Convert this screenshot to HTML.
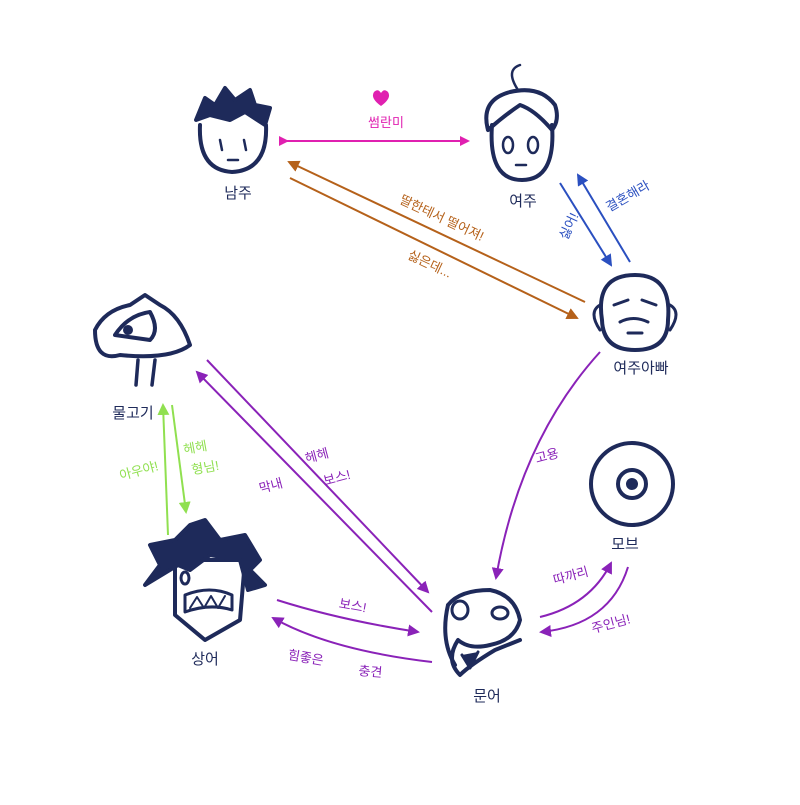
<!DOCTYPE html>
<html><head><meta charset="utf-8"><style>
html,body{margin:0;padding:0;background:#fff;}
svg text{font-family:"Liberation Sans","Noto Sans CJK KR","NanumGothic",sans-serif;}
</style></head><body>
<svg width="800" height="800" viewBox="0 0 800 800" xmlns="http://www.w3.org/2000/svg">
<defs>
<marker id="mp" markerWidth="10" markerHeight="10" refX="8" refY="5" orient="auto" markerUnits="userSpaceOnUse"><path d="M0,0 L10,5 L0,10 Z" fill="#e020b0"/></marker>
<marker id="mb" markerWidth="12" markerHeight="12" refX="10" refY="6" orient="auto" markerUnits="userSpaceOnUse"><path d="M0,0 L12,6 L0,12 Z" fill="#b5611a"/></marker>
<marker id="mbl" markerWidth="12" markerHeight="12" refX="10" refY="6" orient="auto" markerUnits="userSpaceOnUse"><path d="M0,0 L12,6 L0,12 Z" fill="#2a4fc0"/></marker>
<marker id="mpu" markerWidth="12" markerHeight="12" refX="10" refY="6" orient="auto" markerUnits="userSpaceOnUse"><path d="M0,0 L12,6 L0,12 Z" fill="#8a22b8"/></marker>
<marker id="mg" markerWidth="12" markerHeight="12" refX="10" refY="6" orient="auto" markerUnits="userSpaceOnUse"><path d="M0,0 L12,6 L0,12 Z" fill="#90e050"/></marker>
</defs>
<g fill="none" stroke="#1e2a5a" stroke-width="4" stroke-linecap="round" stroke-linejoin="round">
<path d="M200,125 Q198,170 232,172 Q268,170 266,125"/>
<path d="M196,120 L205,98 L215,105 L225,88 L235,100 L250,90 L255,105 L270,108 L265,125 L245,112 L230,120 L210,115 Z" fill="#1e2a5a"/>
<path d="M220,140 L222,150 M244,140 L246,150 M228,160 L238,160" stroke-width="2.5"/>
<path d="M492,125 Q488,180 522,180 Q556,180 552,125"/>
<path d="M488,130 Q480,100 510,92 Q540,85 555,105 Q560,120 552,130 Q535,110 520,105 Q505,115 488,130"/>
<path d="M518,90 Q505,70 520,65" stroke-width="2.5"/>
<ellipse cx="508" cy="145" rx="5" ry="8" stroke-width="2.5"/><ellipse cx="533" cy="145" rx="5" ry="8" stroke-width="2.5"/>
<path d="M516,165 L526,165" stroke-width="2.5"/>
<path d="M602,320 Q595,275 635,275 Q672,275 668,320 Q668,350 635,350 Q603,350 602,320 Z"/>
<path d="M600,305 Q588,312 600,330 M670,305 Q682,312 670,330" stroke-width="3"/>
<path d="M614,305 L628,300 M642,300 L656,305 M620,322 Q633,315 648,322 M628,333 L642,333" stroke-width="3"/>
<path d="M95,330 Q105,310 130,305 L145,295 L160,305 Q180,315 190,345 Q170,360 120,355 Q95,362 95,330 Z"/>
<path d="M115,335 Q128,315 150,312 Q160,330 150,340 Z"/>
<circle cx="128" cy="330" r="3" fill="#1e2a5a"/>
<path d="M138,360 L136,385 M155,360 L152,385" stroke-width="3.5"/>
<path d="M175,560 L175,615 L205,640 L240,620 L245,560 Z"/>
<path d="M145,585 L160,565 L150,545 L175,540 L190,525 L205,520 L220,540 L245,535 L260,560 L250,570 L265,585 L248,590 L240,560 L210,555 L190,570 L178,565 Z" fill="#1e2a5a"/>
<path d="M185,595 Q210,585 232,595 L232,610 Q210,603 185,612 Z" stroke-width="3"/>
<path d="M190,608 L197,597 L204,608 L211,596 L218,608 L225,596" stroke-width="2"/>
<ellipse cx="185" cy="578" rx="4" ry="6" stroke-width="3"/>
<path d="M448,605 Q460,590 490,590 Q515,595 520,620 Q515,640 490,645 Q470,650 458,640 Q445,660 460,675 Q470,665 495,650 L520,640 M448,605 Q440,640 455,665"/>
<ellipse cx="460" cy="610" rx="8" ry="9" stroke-width="3"/>
<ellipse cx="500" cy="613" rx="8" ry="6" stroke-width="3"/>
<path d="M462,655 L470,668 L478,652" fill="#1e2a5a" stroke-width="3"/>
<circle cx="632" cy="484" r="41"/>
<circle cx="632" cy="484" r="14"/>
<circle cx="632" cy="484" r="4" fill="#1e2a5a"/>
</g>
<path d="M381,106 Q370,98 374,92 Q378,88 381,93 Q384,88 388,92 Q392,98 381,106 Z" fill="#e020b0"/>
<g fill="none" stroke-width="2">
<line x1="287" y1="141" x2="468" y2="141" stroke="#e020b0" marker-end="url(#mp)" marker-start="url(#mp)"/>
<line x1="585" y1="302" x2="289" y2="162" stroke="#b5611a" marker-end="url(#mb)"/>
<line x1="290" y1="178" x2="577" y2="318" stroke="#b5611a" marker-end="url(#mb)"/>
<line x1="560" y1="183" x2="611" y2="265" stroke="#2a4fc0" marker-end="url(#mbl)"/>
<line x1="630" y1="262" x2="578" y2="175" stroke="#2a4fc0" marker-end="url(#mbl)"/>
<path d="M600,352 Q520,440 496,578" stroke="#8a22b8" marker-end="url(#mpu)"/>
<line x1="207" y1="360" x2="428" y2="592" stroke="#8a22b8" marker-end="url(#mpu)"/>
<line x1="432" y1="612" x2="197" y2="372" stroke="#8a22b8" marker-end="url(#mpu)"/>
<line x1="168" y1="535" x2="163" y2="405" stroke="#90e050" marker-end="url(#mg)"/>
<line x1="172" y1="405" x2="186" y2="512" stroke="#90e050" marker-end="url(#mg)"/>
<path d="M277,600 Q340,620 418,632" stroke="#8a22b8" marker-end="url(#mpu)"/>
<path d="M432,662 Q330,650 273,618" stroke="#8a22b8" marker-end="url(#mpu)"/>
<path d="M540,617 Q590,605 611,563" stroke="#8a22b8" marker-end="url(#mpu)"/>
<path d="M628,567 Q610,625 541,632" stroke="#8a22b8" marker-end="url(#mpu)"/>
</g>
<g font-size="15" fill="#1e2a5a" text-anchor="middle">
<text x="238" y="198">남주</text>
<text x="523" y="206">여주</text>
<text x="641" y="373">여주아빠</text>
<text x="133" y="418">물고기</text>
<text x="205" y="664">상어</text>
<text x="487" y="701">문어</text>
<text x="625" y="549">모브</text>
</g>
<g font-size="13" text-anchor="middle">
<text x="386" y="127" fill="#e020b0">썸란미</text>
<text x="440" y="222" fill="#b5611a" transform="rotate(25 440 222)">딸한테서  떨어져!</text>
<text x="428" y="268" fill="#b5611a" transform="rotate(25 428 268)">싫은데...</text>
<text x="573" y="228" fill="#2a4fc0" transform="rotate(-65 573 228)">싫어!</text>
<text x="630" y="200" fill="#2a4fc0" transform="rotate(-30 630 200)">결혼해라</text>
<text x="548" y="460" fill="#8a22b8" transform="rotate(-15 548 460)">고용</text>
<text x="272" y="490" fill="#8a22b8" transform="rotate(-15 272 490)">막내</text>
<text x="318" y="460" fill="#8a22b8" transform="rotate(-15 318 460)">헤헤</text>
<text x="338" y="482" fill="#8a22b8" transform="rotate(-15 338 482)">보스!</text>
<text x="140" y="475" fill="#90e050" transform="rotate(-15 140 475)">아우야!</text>
<text x="196" y="452" fill="#90e050" transform="rotate(-10 196 452)">헤헤</text>
<text x="206" y="472" fill="#90e050" transform="rotate(-10 206 472)">형님!</text>
<text x="352" y="610" fill="#8a22b8" transform="rotate(10 352 610)">보스!</text>
<text x="305" y="662" fill="#8a22b8" transform="rotate(10 305 662)">힘좋은</text>
<text x="370" y="676" fill="#8a22b8" transform="rotate(5 370 676)">충견</text>
<text x="572" y="580" fill="#8a22b8" transform="rotate(-15 572 580)">따까리</text>
<text x="612" y="628" fill="#8a22b8" transform="rotate(-15 612 628)">주인님!</text>
</g>
</svg>
</body></html>
